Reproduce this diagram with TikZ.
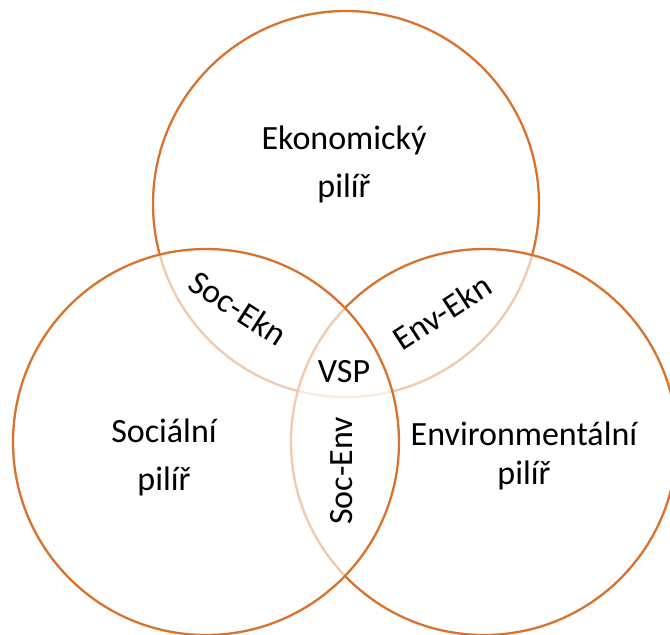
\documentclass[tikz,border=0pt]{standalone}
\usepackage{fontspec}
\setmainfont{Carlito}
\definecolor{ring}{RGB}{216,114,44}
\begin{document}
\begin{tikzpicture}[x=1pt,y=-1pt,
  pillar/.style={circle, draw=ring, line width=2.3pt, minimum size=386pt, inner sep=0pt},
  veil/.style={fill=white, fill opacity=0.62, draw opacity=1},
  lbl/.style={inner sep=0pt, font=\fontsize{34}{40}\selectfont, text=black}]
\useasboundingbox (0,0) rectangle (670,635);
\node[pillar] (eko) at (346,204) {};
\node[pillar, veil] (env) at (484,442) {};
\node[pillar, veil] (soc) at (206,442) {};
\node[lbl, anchor=base] (eko1) at (344,149) {Ekonomický};
\node[lbl, anchor=base] (eko2) at (344,197) {pilíř};
\node[lbl, anchor=base] (soc1) at (164,442) {Sociální};
\node[lbl, anchor=base] (soc2) at (164,490) {pilíř};
\node[lbl, anchor=base] (env1) at (524,445) {Environmentální};
\node[lbl, anchor=base] (env2) at (524,484) {pilíř};
\node[lbl, anchor=base] (vsp) at (344,382) {VSP};
\node[lbl, rotate=-33] (se) at (238,308) {Soc-Ekn};
\node[lbl, rotate=33] (ee) at (442,312) {Env-Ekn};
\node[lbl, rotate=90] (sv) at (342,471) {Soc-Env};
\end{tikzpicture}
\end{document}
